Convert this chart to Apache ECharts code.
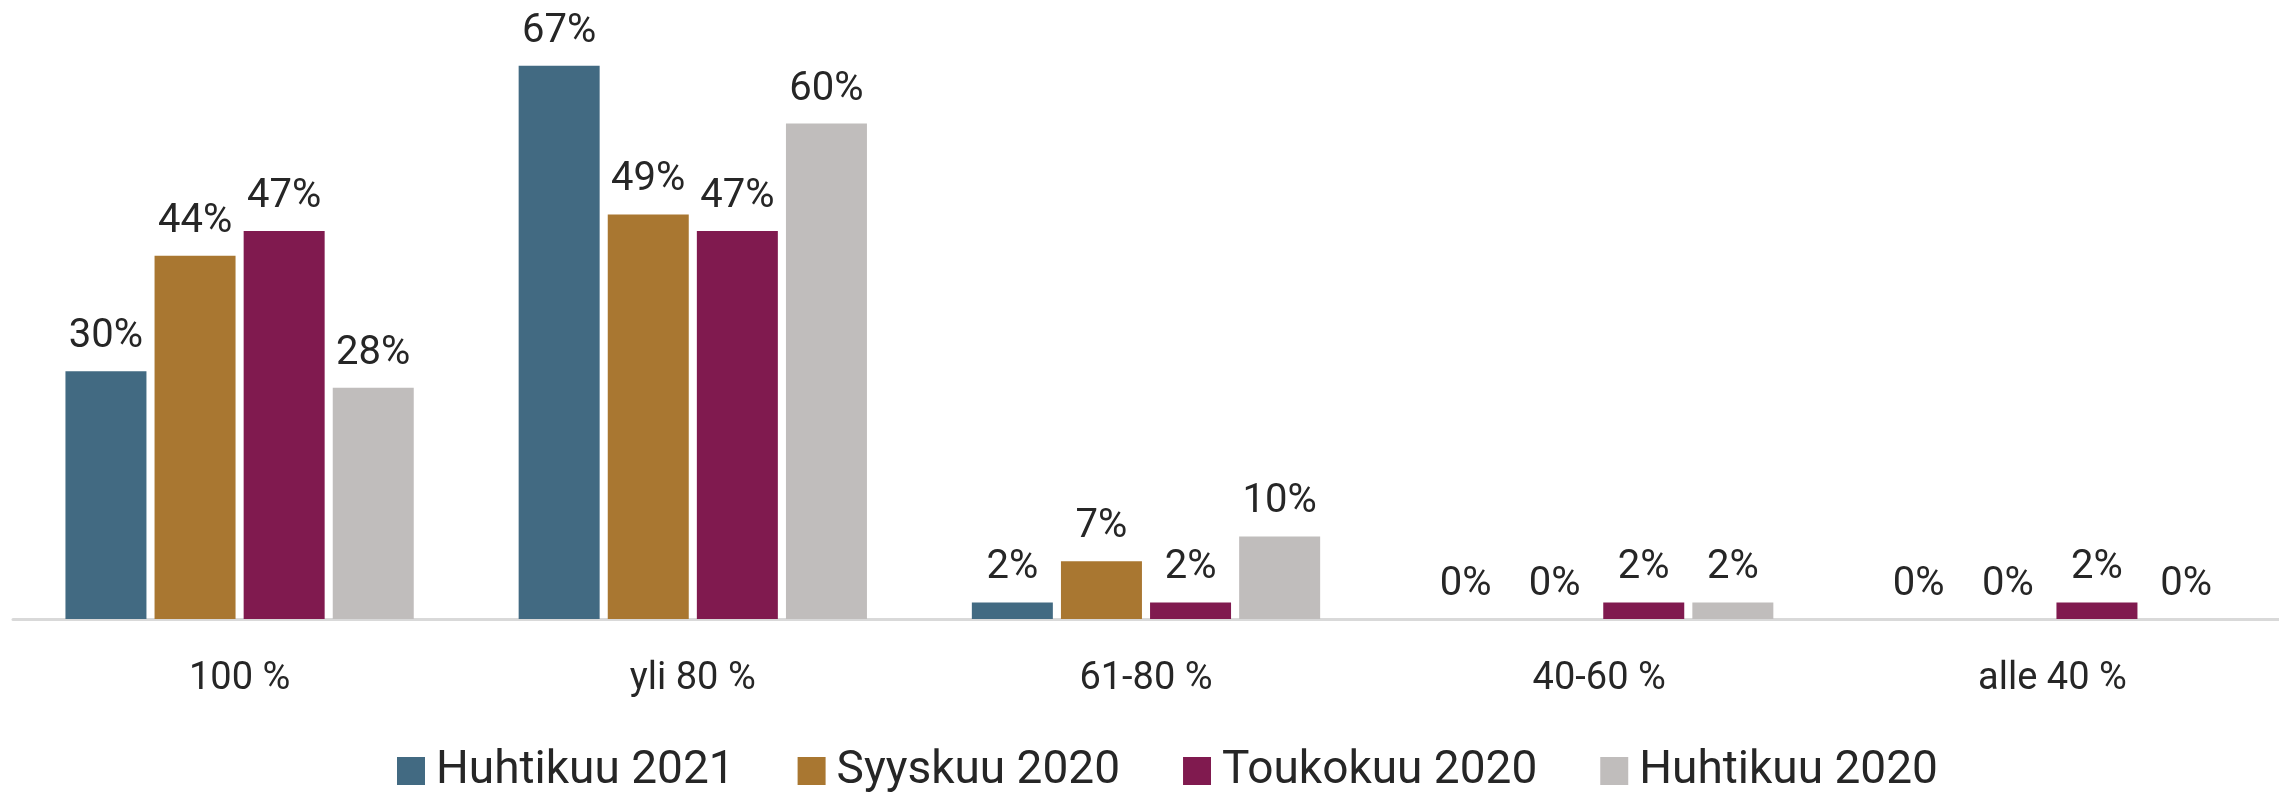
<!DOCTYPE html>
<html lang="fi">
<head>
    <meta charset="UTF-8">
    <title>Kaavio</title>
    <script src="https://cdn.jsdelivr.net/npm/echarts@6/dist/echarts.min.js"></script>
    <style>
        html, body { margin: 0; padding: 0; background: #ffffff; }
        #chart { width: 2279px; height: 793px; }
    </style>
</head>
<body>
<div id="chart"></div>
<script>
    // luokat ja sarjat
    var categories = ['100 %', 'yli 80 %', '61-80 %', '40-60 %', 'alle 40 %'];
    var seriesNames = ['Huhtikuu 2021', 'Syyskuu 2020', 'Toukokuu 2020', 'Huhtikuu 2020'];
    var huhtikuu2021 = [30, 67, 2, 0, 0];
    var syyskuu2020 = [44, 49, 7, 0, 0];
    var toukokuu2020 = [47, 47, 2, 2, 2];
    var huhtikuu2020 = [28, 60, 10, 2, 0];
    var colors = ['#426a82', '#a97731', '#801a4f', '#c0bdbc'];

    var values = [huhtikuu2021, syyskuu2020, toukokuu2020, huhtikuu2020];
    var fontName = 'Roboto';
    var textColor = '#262626';

    var chart = echarts.init(document.getElementById('chart'));

    var series = [];
    for (var i = 0; i < seriesNames.length; i++) {
        series.push({
            name: seriesNames[i],
            type: 'bar',
            data: values[i],
            barWidth: 81,
            barGap: '10%',
            itemStyle: { color: colors[i] },
            label: {
                show: true,
                position: 'top',
                distance: 14,
                formatter: '{c}%',
                fontFamily: fontName,
                fontSize: 40,
                color: textColor
            }
        });
    }

    var option = {
        animation: false,
        color: colors,
        grid: {
            left: 13,
            right: 0,
            top: 41,
            bottom: 174
        },
        legend: {
            top: 743,
            left: 392,
            itemWidth: 28,
            itemHeight: 28,
            itemGap: 63,
            icon: 'rect',
            textStyle: {
                fontFamily: fontName,
                fontSize: 46,
                color: textColor,
                padding: [0, 0, 0, 6]
            },
            data: seriesNames
        },
        xAxis: {
            type: 'category',
            data: categories,
            axisLine: { lineStyle: { color: '#d9d9d9', width: 3 } },
            axisTick: { show: false },
            axisLabel: {
                margin: 41,
                fontFamily: fontName,
                fontSize: 38,
                color: textColor
            }
        },
        yAxis: {
            type: 'value',
            min: 0,
            max: 70,
            show: false,
            splitLine: { show: false }
        },
        series: series
    };
    chart.setOption(option);
</script>
</body>
</html>
